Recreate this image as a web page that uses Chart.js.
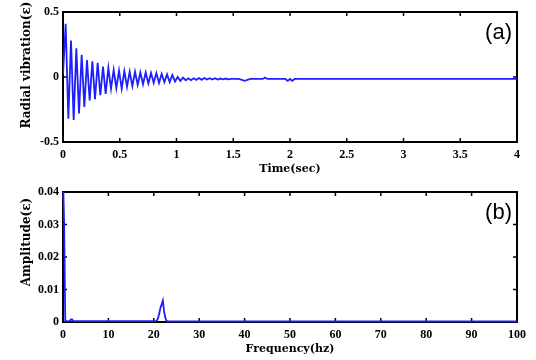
<!DOCTYPE html>
<html>
<head>
<meta charset="utf-8">
<script src="https://cdn.jsdelivr.net/npm/chart.js@4.4.1/dist/chart.umd.min.js"></script>
<style>
  html, body { margin: 0; padding: 0; background: #fff; }
  .panel { position: absolute; left: 0; width: 536px; height: 180px; }
</style>
</head>
<body>
<div class="panel" style="top:0"><canvas id="vibChart" width="536" height="180"></canvas></div>
<div class="panel" style="top:180px"><canvas id="fftChart" width="536" height="180"></canvas></div>
<script>
// (a) radial vibration, sampled every half cycle
const timeStep = 0.0235;
const vibValues = [0.02, 0.41, -0.32, 0.28, -0.33, 0.22, -0.28, 0.17, -0.23, 0.13,
  -0.18, 0.12, -0.17, 0.11, -0.14, 0.08, -0.13, 0.07, -0.09, 0.055,
  -0.085, 0.05, -0.09, 0.045, -0.075, 0.04, -0.07, 0.04, -0.06, 0.035,
  -0.055, 0.035, -0.05, 0.03, -0.045, 0.03, -0.045, 0.025, -0.04, 0.02,
  -0.04, 0.015, -0.035, 0.0, -0.03, -0.005, -0.025, -0.01, -0.025, -0.01,
  -0.022, -0.008, -0.022, -0.008, -0.02, -0.01, -0.02, -0.01, -0.02, -0.012,
  -0.018, -0.012, -0.018, -0.015];
const tailTimes = [1.55, 1.6, 1.65, 1.76, 1.78, 1.8, 1.96, 1.98, 2.0, 2.02, 2.04, 4.0];
const tailValues = [-0.015, -0.03, -0.015, -0.015, -0.004, -0.015, -0.015, -0.03, -0.015, -0.03, -0.015, -0.015];
const timeTicks = [0, 0.5, 1, 1.5, 2, 2.5, 3, 3.5, 4];
const timeLabels = ['0', '0.5', '1', '1.5', '2', '2.5', '3', '3.5', '4'];
const vibTicks = [-0.5, 0, 0.5];
const vibLabels = ['-0.5', '0', '0.5'];

// (b) amplitude spectrum
const freqs = [0, 0.25, 0.5, 1.5, 1.75, 2, 2.25, 20.5, 20.75, 21, 21.25, 21.5, 21.75, 22, 22.25, 22.5, 22.75, 23, 100];
const amps = [0.045, 0.03, 0.0003, 0.0003, 0.0008, 0.0008, 0.0003, 0.0003, 0.0006, 0.0015, 0.003, 0.0045, 0.0055, 0.0066, 0.0035, 0.0015, 0.0005, 0.0002, 0.0002];
const freqTicks = [0, 10, 20, 30, 40, 50, 60, 70, 80, 90, 100];
const freqLabels = ['0', '10', '20', '30', '40', '50', '60', '70', '80', '90', '100'];
const ampTicks = [0, 0.01, 0.02, 0.03, 0.04];
const ampLabels = ['0', '0.01', '0.02', '0.03', '0.04'];

const lineBlue = '#1e1eff';
const tickFont = { family: '"Liberation Serif", "DejaVu Serif", serif', size: 12, weight: 'bold' };
const xTitleFont = { family: '"DejaVu Serif", serif', size: 11, weight: 'bold' };
const yTitleFont = { family: '"DejaVu Serif", serif', size: 12, weight: 'bold' };

// box with inward ticks on all four sides, plus the panel letter
const framePlugin = {
  id: 'frame',
  beforeDatasetsDraw(chart, args, opts) {
    const { ctx, chartArea: a, scales } = chart;
    ctx.save();
    ctx.strokeStyle = '#000';
    ctx.lineWidth = 2;
    ctx.strokeRect(a.left, a.top, a.right - a.left, a.bottom - a.top);
    ctx.lineWidth = 1.5;
    ctx.beginPath();
    scales.x.ticks.forEach(t => {
      const x = scales.x.getPixelForValue(t.value);
      ctx.moveTo(x, a.bottom); ctx.lineTo(x, a.bottom - 4);
      ctx.moveTo(x, a.top); ctx.lineTo(x, a.top + 4);
    });
    scales.y.ticks.forEach(t => {
      const y = scales.y.getPixelForValue(t.value);
      ctx.moveTo(a.left, y); ctx.lineTo(a.left + 4, y);
      ctx.moveTo(a.right, y); ctx.lineTo(a.right - 4, y);
    });
    ctx.stroke();
    ctx.fillStyle = '#000';
    ctx.font = '22px "Liberation Sans", Arial, sans-serif';
    ctx.textAlign = 'right';
    ctx.textBaseline = 'middle';
    ctx.fillText(opts.label, a.right - 5, a.top + 21);
    ctx.restore();
  }
};

function axis(ticks, labels, title, horizontal) {
  return {
    type: 'linear',
    min: ticks[0],
    max: ticks[ticks.length - 1],
    afterBuildTicks: scale => { scale.ticks = ticks.map(v => ({ value: v })); },
    afterFit: scale => { if (horizontal) scale.height = 38; else scale.width = 63; },
    grid: { display: false, drawTicks: false },
    border: { display: false },
    ticks: {
      color: '#000',
      font: tickFont,
      padding: horizontal ? 6 : 4,
      maxRotation: 0,
      autoSkip: false,
      callback: (v, i) => labels[i]
    },
    title: {
      display: true,
      text: title,
      color: '#000',
      font: horizontal ? xTitleFont : yTitleFont,
      padding: horizontal ? { top: 0, bottom: 4 } : { top: 20, bottom: 0 }
    }
  };
}

function makePanel(id, points, xTicks, xLabels, xTitle, yTicks, yLabels, yTitle, label, width, clip) {
  return new Chart(document.getElementById(id), {
    type: 'line',
    data: {
      datasets: [{
        data: points,
        borderColor: lineBlue,
        borderWidth: width,
        pointRadius: 0,
        tension: 0,
        clip: clip
      }]
    },
    options: {
      responsive: false,
      animation: false,
      layout: { padding: { top: 12, right: 19, left: 0, bottom: 0 } },
      plugins: { legend: { display: false }, tooltip: { enabled: false }, frame: { label: label } },
      scales: {
        x: axis(xTicks, xLabels, xTitle, true),
        y: axis(yTicks, yLabels, yTitle, false)
      }
    },
    plugins: [framePlugin]
  });
}

const vibPoints = vibValues.map((v, i) => ({ x: i * timeStep, y: v }))
  .concat(tailTimes.map((t, i) => ({ x: t, y: tailValues[i] })));
const fftPoints = freqs.map((f, i) => ({ x: f, y: amps[i] }));

// leading en spaces nudge the rotated titles upward, as in the original figure
makePanel('vibChart', vibPoints, timeTicks, timeLabels, 'Time(sec)',
  vibTicks, vibLabels, '\u2002\u2002\u2002\u2002Radial vibration(ε)', '(a)', 1.8, 0);
makePanel('fftChart', fftPoints, freqTicks, freqLabels, 'Frequency(hz)',
  ampTicks, ampLabels, '\u2002\u2002\u2002\u2002\u2002Amplitude(ε)', '(b)', 1.8, { left: 2, right: 2, top: 0, bottom: 3 });
</script>
</body>
</html>
